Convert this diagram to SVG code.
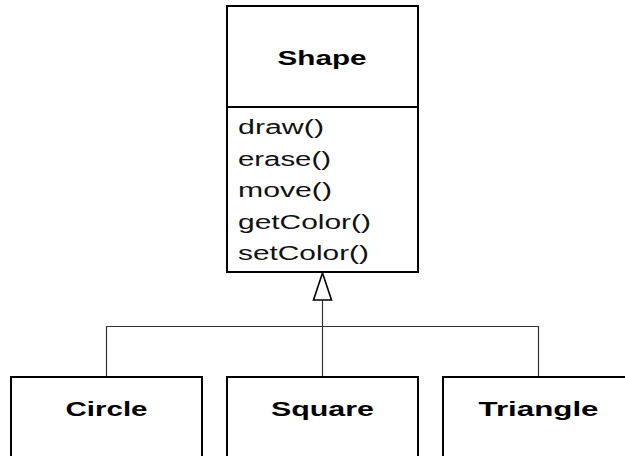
<svg xmlns="http://www.w3.org/2000/svg" width="625" height="456" viewBox="0 0 625 456">
<style>
.box{fill:#fff;stroke:#000;stroke-width:2}
.title{font-family:"Liberation Sans",Arial,sans-serif;font-weight:bold;font-size:20px;fill:#000}
.m{font-family:"Liberation Sans",Arial,sans-serif;font-size:20px;fill:#111}
.conn{fill:none;stroke:#333;stroke-width:1.2}
.head{fill:#fff;stroke:#000;stroke-width:1.6}
</style>
<rect width="625" height="456" fill="#fff"/>
<g id="connectors">
<polyline class="conn" points="106.5,377 106.5,326.5 538.5,326.5 538.5,377"/>
<line class="conn" x1="322.5" y1="300" x2="322.5" y2="377"/>
<polygon class="head" points="322.5,273 313.5,300 331.5,300"/>
</g>
<g id="Shape">
<rect class="box" x="227" y="6" width="191" height="266"/>
<line x1="227" y1="107" x2="418" y2="107" stroke="#000" stroke-width="2"/>
<text class="title" x="322" y="65" text-anchor="middle" textLength="89" lengthAdjust="spacingAndGlyphs">Shape</text>
<text class="m" x="238" y="134" textLength="86" lengthAdjust="spacingAndGlyphs">draw()</text>
<text class="m" x="238" y="165.5" textLength="93" lengthAdjust="spacingAndGlyphs">erase()</text>
<text class="m" x="238" y="197" textLength="94" lengthAdjust="spacingAndGlyphs">move()</text>
<text class="m" x="238" y="228.5" textLength="133" lengthAdjust="spacingAndGlyphs">getColor()</text>
<text class="m" x="238" y="260" textLength="131" lengthAdjust="spacingAndGlyphs">setColor()</text>
</g>
<g id="Circle">
<rect class="box" x="11" y="377" width="191" height="90"/>
<text class="title" x="106.5" y="416" text-anchor="middle" textLength="82" lengthAdjust="spacingAndGlyphs">Circle</text>
</g>
<g id="Square">
<rect class="box" x="227" y="377" width="191" height="90"/>
<text class="title" x="322.5" y="416" text-anchor="middle" textLength="103" lengthAdjust="spacingAndGlyphs">Square</text>
</g>
<g id="Triangle">
<rect class="box" x="443" y="377" width="191" height="90"/>
<text class="title" x="538.5" y="416" text-anchor="middle" textLength="120" lengthAdjust="spacingAndGlyphs">Triangle</text>
</g>
</svg>
